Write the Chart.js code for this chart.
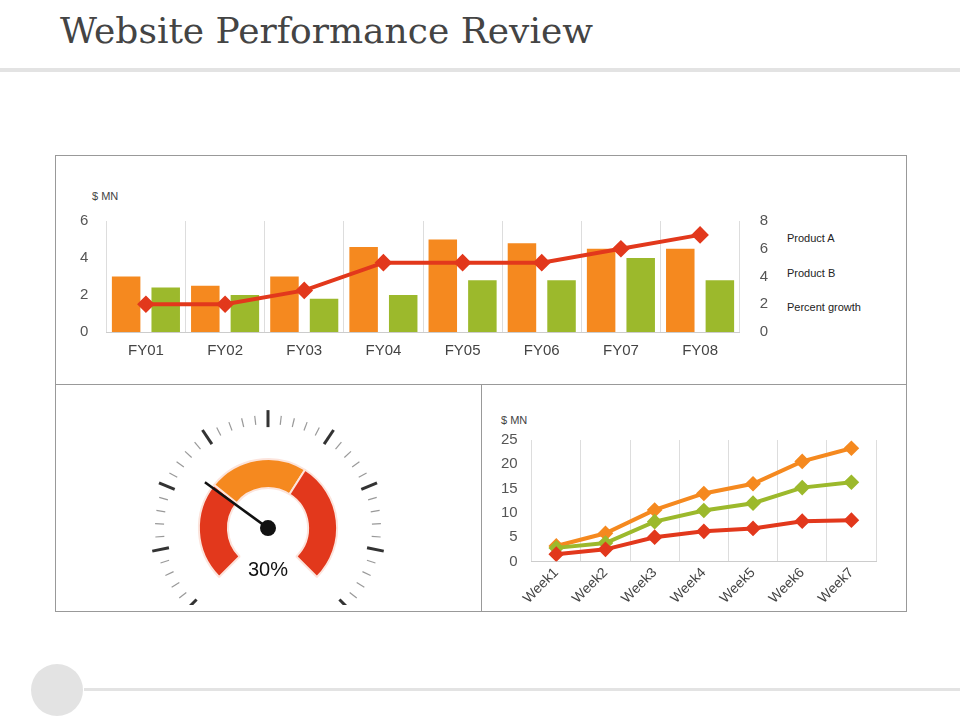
<!DOCTYPE html><html><head><meta charset="utf-8">
<script src="https://cdn.jsdelivr.net/npm/chart.js@4"></script>
<style>
body{margin:0;width:960px;height:720px;background:#fff;position:relative;overflow:hidden;font-family:"Liberation Sans",Arial,sans-serif}
.abs{position:absolute}
</style></head><body>
<div class="abs" style="left:60px;top:10px;font-family:'DejaVu Serif',serif;font-size:36px;color:#444">Website Performance Review</div>
<div class="abs" style="left:0;top:68px;width:960px;height:4px;background:#e3e3e3"></div>
<div class="abs" style="left:55px;top:155px;width:850px;height:455px;border:1px solid #999"></div>
<div class="abs" style="left:55px;top:384px;width:852px;height:1px;background:#999"></div>
<div class="abs" style="left:481px;top:384px;width:1px;height:227px;background:#999"></div>
<div class="abs" style="left:84px;top:688px;width:876px;height:3px;background:#e3e3e3"></div>
<div class="abs" style="left:31px;top:664px;width:52px;height:52px;border-radius:50%;background:#e3e3e3"></div>
<div class="abs" style="left:92px;top:190px;font-size:11px;color:#444">$ MN</div>
<div class="abs" style="left:501px;top:414px;font-size:11px;color:#444">$ MN</div>
<div class="abs" style="left:787px;top:221px;font-size:11px;color:#222;line-height:34.5px">Product A<br>Product B<br>Percent growth</div>
<div class="abs" style="left:70px;top:200px;width:710px;height:170px"><canvas id="c1"></canvas></div>
<div class="abs" style="left:140px;top:405px;width:256px;height:200px"><canvas id="c2"></canvas></div>
<div class="abs" style="left:495px;top:425px;width:390px;height:185px"><canvas id="c3"></canvas></div>
<script>
const years=["FY01","FY02","FY03","FY04","FY05","FY06","FY07","FY08"];
const productA=[3,2.5,3,4.6,5,4.8,4.5,4.5];
const productB=[2.4,2,1.8,2,2.8,2.8,4,2.8];
const growth=[2,2,3,5,5,5,6,7];
const weeks=["Week1","Week2","Week3","Week4","Week5","Week6","Week7"];
const wOrange=[3.2,5.8,10.6,14,16,20.6,23.3];
const wGreen=[2.8,3.8,8.2,10.5,12,15.2,16.3];
const wRed=[1.5,2.5,5,6.2,6.8,8.3,8.5];
const gaugeSegments=[31,31,38];
const gaugeValue=30;
const gaugeLabel="30%";
const OR="#f5891f",GR="#9cb92c",RD="#e2381c";
Chart.defaults.font.family="'Liberation Sans',Arial,sans-serif";
Chart.defaults.color="#555";
Chart.defaults.animation=false;
Chart.defaults.maintainAspectRatio=false;
new Chart(document.getElementById('c1'),{data:{labels:years,datasets:[
 {type:'line',data:growth,yAxisID:'y2',borderColor:RD,backgroundColor:RD,borderWidth:4,pointStyle:'rectRot',pointRadius:6,order:0},
 {type:'bar',data:productA,backgroundColor:OR,yAxisID:'y',barPercentage:0.72,categoryPercentage:1,order:1},
 {type:'bar',data:productB,backgroundColor:GR,yAxisID:'y',barPercentage:0.72,categoryPercentage:1,order:1}]},
 options:{plugins:{legend:{display:false},tooltip:{enabled:false}},layout:{padding:{top:6}},
 scales:{x:{grid:{color:'#ddd',drawTicks:false},border:{color:'#ccc'},ticks:{font:{size:15},color:'#444',padding:10}},
 y:{min:0,max:6,ticks:{stepSize:2,font:{size:15},padding:10},grid:{display:false},border:{display:false}},
 y2:{position:'right',min:0,max:8,ticks:{stepSize:2,font:{size:15},padding:12},grid:{display:false},border:{display:false}}}}});
const gaugePlugin={id:'g',afterDraw(ch){const m=ch.getDatasetMeta(0).data[0];const ctx=ch.ctx;const cx=m.x,cy=m.y;
 ctx.save();ctx.strokeStyle='#333';
 for(let i=0;i<=40;i++){const a=(-225+i*270/40)*Math.PI/180;const major=i%5==0;const r1=major?101:104,r2=major?118:113;
  ctx.lineWidth=major?3:1.2;ctx.strokeStyle=major?'#333':'#999';ctx.beginPath();ctx.moveTo(cx+r1*Math.cos(a),cy+r1*Math.sin(a));ctx.lineTo(cx+r2*Math.cos(a),cy+r2*Math.sin(a));ctx.stroke();}
 const na=(-225+gaugeValue/100*270)*Math.PI/180;
 ctx.strokeStyle='#111';ctx.lineWidth=2.5;ctx.beginPath();ctx.moveTo(cx,cy);ctx.lineTo(cx+78*Math.cos(na),cy+78*Math.sin(na));ctx.stroke();
 ctx.fillStyle='#111';ctx.beginPath();ctx.arc(cx,cy,8,0,Math.PI*2);ctx.fill();
 ctx.font='20px "Liberation Sans",Arial';ctx.textAlign='center';ctx.fillText(gaugeLabel,cx,cy+48);ctx.restore();}};
new Chart(document.getElementById('c2'),{type:'doughnut',data:{datasets:[{data:gaugeSegments,backgroundColor:[RD,OR,RD],borderColor:'#fce4dc',borderWidth:2}]},
 options:{rotation:-135,circumference:270,cutout:'58%',layout:{padding:{top:53,bottom:27}},plugins:{legend:{display:false},tooltip:{enabled:false}}},plugins:[gaugePlugin]});
const ls=c=>({borderColor:c,backgroundColor:c,borderWidth:4,pointStyle:'rectRot',pointRadius:5});
new Chart(document.getElementById('c3'),{type:'line',data:{labels:weeks,datasets:[
 {data:wRed,...ls(RD)},{data:wGreen,...ls(GR)},{data:wOrange,...ls(OR)}]},
 options:{plugins:{legend:{display:false},tooltip:{enabled:false}},
 scales:{x:{offset:true,grid:{offset:true,color:'#ddd',drawTicks:false},border:{color:'#ccc'},ticks:{maxRotation:45,minRotation:45,font:{size:14},color:'#444'}},
 y:{min:0,max:25,ticks:{stepSize:5,font:{size:15},padding:6},grid:{display:false},border:{display:false}}}}});
</script></body></html>
